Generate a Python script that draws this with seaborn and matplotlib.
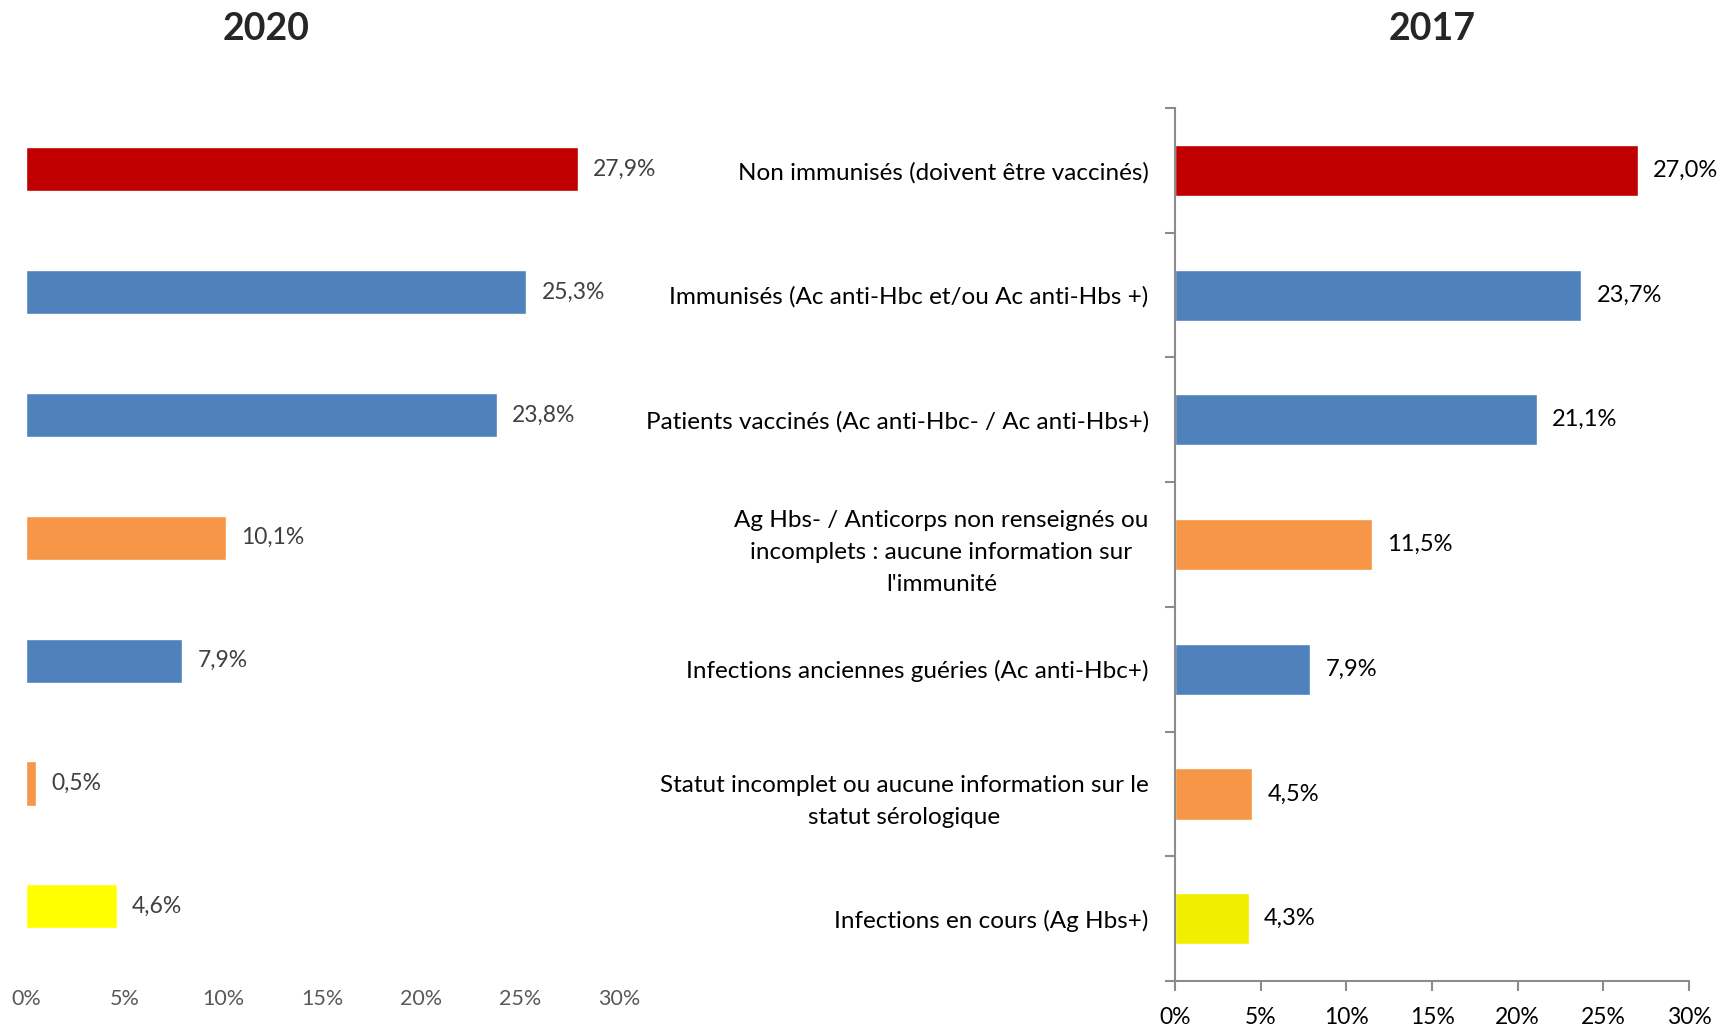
import numpy as np
import pandas as pd
import seaborn as sns
import matplotlib.pyplot as plt

# Données
categories = [
    "Non immunisés (doivent être vaccinés)",
    "Immunisés (Ac anti-Hbc et/ou Ac anti-Hbs +)",
    "Patients vaccinés (Ac anti-Hbc- / Ac anti-Hbs+)",
    "Ag Hbs- / Anticorps non renseignés ou\nincomplets : aucune information sur\nl'immunité",
    "Infections anciennes guéries (Ac anti-Hbc+)",
    "Statut incomplet ou aucune information sur le\nstatut sérologique",
    "Infections en cours (Ag Hbs+)",
]
valeurs_2020 = [27.9, 25.3, 23.8, 10.1, 7.9, 0.5, 4.6]
valeurs_2017 = [27.0, 23.7, 21.1, 11.5, 7.9, 4.5, 4.3]
couleurs_2020 = ["#C00000", "#4F81BD", "#4F81BD", "#F79646", "#4F81BD", "#F79646", "#FFFF00"]
couleurs_2017 = ["#C00000", "#4F81BD", "#4F81BD", "#F79646", "#4F81BD", "#F79646", "#F2EE00"]
ticks_x = [0, 5, 10, 15, 20, 25, 30]
labels_x = ["0%", "5%", "10%", "15%", "20%", "25%", "30%"]

sns.set_style("white")
plt.rcParams['font.family'] = ['Lato', 'DejaVu Sans']

df2020 = pd.DataFrame({"cat": categories, "val": valeurs_2020})
df2017 = pd.DataFrame({"cat": categories, "val": valeurs_2017})

fig = plt.figure(figsize=(17.23, 10.29), dpi=100)
ax1 = fig.add_axes([0.0151, 0.0595, 0.3442, 0.8358])
ax2 = fig.add_axes([0.6820, 0.0466, 0.2983, 0.8484])

def fmt(v):
    return f"{v:.1f}".replace(".", ",") + "%"

# Graphique 2020 (gauche)
sns.barplot(data=df2020, x="val", y="cat", hue="cat", palette=couleurs_2020,
            legend=False, width=0.36, orient="h", ax=ax1, saturation=1)
for cont, v in zip(ax1.containers, valeurs_2020):
    ax1.bar_label(cont, labels=[fmt(v)], padding=11, fontsize=16.5, color="#404040")
ax1.set_xlim(0, 30)
ax1.set_ylim(6.5, -0.5)
ax1.set_xticks(ticks_x, labels_x)
ax1.set_yticks([])
ax1.tick_params(axis="x", length=0, pad=15, labelsize=15.5, labelcolor="#595959")
for s in ax1.spines.values():
    s.set_visible(False)
ax1.set_xlabel("")
ax1.set_ylabel("")

# Graphique 2017 (droite)
sns.barplot(data=df2017, x="val", y="cat", hue="cat", palette=couleurs_2017,
            legend=False, width=0.41, orient="h", ax=ax2, saturation=1)
for cont, v in zip(ax2.containers, valeurs_2017):
    ax2.bar_label(cont, labels=[fmt(v)], padding=11, fontsize=17, color="black")
ax2.set_xlim(0, 30)
ax2.set_ylim(6.5, -0.5)
ax2.set_xticks(ticks_x, labels_x)
ax2.set_yticks(range(len(categories)), categories)
ax2.set_yticks(np.arange(-0.5, len(categories), 1), minor=True)
for lab in ax2.get_yticklabels():
    lab.set_multialignment("center")
    lab.set_linespacing(1.65)
ax2.tick_params(axis="y", which="major", length=0, pad=19, labelsize=17.5, labelcolor="black")
ax2.tick_params(axis="y", which="minor", length=7, width=1.5, color="#8C8C8C", left=True)
ax2.tick_params(axis="x", length=7, width=1.5, color="#8C8C8C", direction="out", bottom=True,
                pad=12, labelsize=16.5, labelcolor="black")
for side in ["top", "right"]:
    ax2.spines[side].set_visible(False)
for side in ["left", "bottom"]:
    ax2.spines[side].set_color("#8C8C8C")
    ax2.spines[side].set_linewidth(1.5)
ax2.set_xlabel("")
ax2.set_ylabel("")

fig.text(0.1544, 0.9723, "2020", ha="center", va="center", fontsize=27, fontweight="bold")
fig.text(0.8311, 0.9723, "2017", ha="center", va="center", fontsize=27, fontweight="bold")

plt.savefig("out.png", dpi=100)
